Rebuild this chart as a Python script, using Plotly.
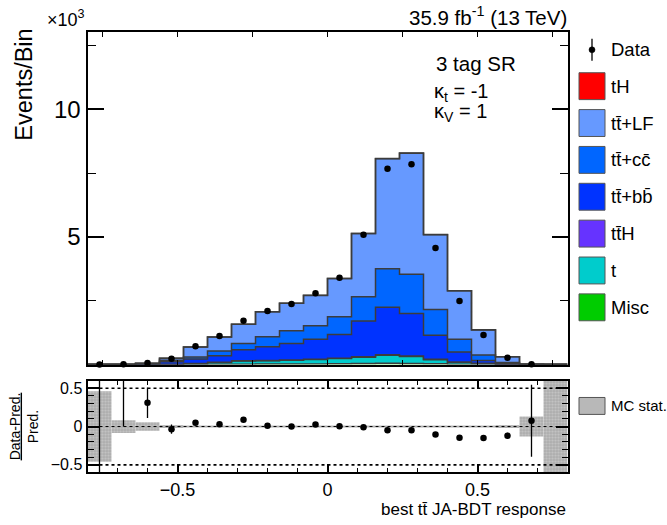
import numpy as np
import plotly.graph_objects as go

# ---------------- data (events per bin) ----------------
BIN_LOW, BIN_HIGH, N_BINS = -0.8, 0.8, 20

misc = [0, 0, 0, 2, 5, 10, 15, 20, 20, 25, 30, 40, 50, 45, 30, 15, 8, 2, 0, 0]
t_single = [0, 1, 3, 7, 33, 76, 129, 132, 150, 173, 205, 250, 315, 273, 165, 77, 38, 7, 2, 0]
tth = [0, 0, 0, 1, 2, 4, 6, 8, 10, 12, 15, 20, 25, 22, 15, 8, 4, 1, 0, 0]
ttbb = [1, 3, 17, 100, 180, 260, 430, 540, 650, 780, 930, 1400, 1860, 1660, 940, 390, 110, 30, 4, 0]
ttcc = [0, 1, 10, 60, 80, 180, 250, 390, 500, 530, 695, 950, 1500, 1540, 1010, 500, 220, 40, 3, 0]
ttlf = [2, 4, 20, 80, 390, 550, 750, 980, 1070, 1190, 1495, 2470, 4310, 4740, 2930, 1900, 980, 230, 6, 1]
th = [0, 0, 0, 0, 1, 1, 2, 2, 3, 3, 4, 5, 7, 7, 5, 3, 1, 0, 0, 0]

data = [0, 15, 65, 230, 720, 1120, 1720, 2100, 2370, 2790, 3400, 5090, 7670, 7850,
        4570, 2490, 1160, 270, 15, None]

ratio = [-1.0, 1.2, 0.31, -0.035, 0.05, 0.03, 0.09, 0.01, 0.0, 0.025, 0.005, -0.01,
         -0.05, -0.05, -0.105, -0.145, -0.15, -0.12, 0.075, None]
ratio_err = [1.8, 1.2, 0.2, 0.06, 0.03, 0.025, 0.02, 0.015, 0.015, 0.012, 0.012, 0.01,
             0.008, 0.008, 0.01, 0.015, 0.025, 0.04, 0.47, None]
mc_stat = [0.46, 0.083, 0.055, 0.02, 0.012, 0.01, 0.008, 0.007, 0.007, 0.006, 0.006,
           0.005, 0.004, 0.004, 0.005, 0.007, 0.01, 0.02, 0.13, 0.9]

components = [  # bottom -> top of stack
    ("Misc", misc, "#00cc00"),
    ("t", t_single, "#00cccc"),
    ("tt\u0304H", tth, "#6633ff"),
    ("tt\u0304+bb\u0304", ttbb, "#0033ff"),
    ("tt\u0304+cc\u0304", ttcc, "#0066ff"),
    ("tt\u0304+LF", ttlf, "#6699ff"),
    ("tH", th, "#ff0000"),
]

# ---------------- geometry ----------------
W, H = 667, 525
FONT = "Liberation Sans, Arial, Helvetica, sans-serif"
X0, X1 = 87.5, 567.5
MAIN_T, MAIN_B = 31, 365
RAT_T, RAT_B = 381, 473.3


def px_x(p):
    return p / W


def px_y(p):
    return 1 - p / H


edges = np.linspace(BIN_LOW, BIN_HIGH, N_BINS + 1)
centers = 0.5 * (edges[:-1] + edges[1:])
width = edges[1] - edges[0]

fig = go.Figure()

cum = np.zeros(N_BINS)
first = True
for name, vals, col in components:
    cum = cum + np.array(vals, dtype=float) / 1000.0
    yv = list(cum) + [cum[-1]]
    fig.add_trace(go.Scatter(
        x=edges, y=yv, mode="lines", line_shape="hv",
        line=dict(color="#3c3c3c", width=1.5),
        fill="tozeroy" if first else "tonexty", fillcolor=col,
        showlegend=False, hoverinfo="skip", xaxis="x", yaxis="y"))
    first = False

data_k = [None if d is None else d / 1000.0 for d in data]
fig.add_trace(go.Scatter(
    x=centers, y=data_k, mode="markers",
    marker=dict(color="black", size=6.5),
    showlegend=False, xaxis="x", yaxis="y", cliponaxis=False))

# ratio panel: MC stat band
mc = np.array(mc_stat)
fig.add_trace(go.Bar(
    x=centers, y=2 * mc, base=-mc, width=width,
    marker=dict(color="#b8b8b8", line=dict(width=0),
                pattern=dict(shape=".", fgcolor="#7a7a7a", bgcolor="#cbcbcb",
                             size=3, solidity=0.5)),
    showlegend=False, xaxis="x2", yaxis="y2", hoverinfo="skip"))

fig.add_trace(go.Scatter(
    x=centers, y=ratio, mode="markers",
    marker=dict(color="black", size=6.5),
    error_y=dict(type="data", array=ratio_err, color="black", thickness=1.3, width=0),
    showlegend=False, xaxis="x2", yaxis="y2"))

shapes = []
for yv, dash, w in [(0.5, "dot", 1.6), (-0.5, "dot", 1.6), (0.0, "dot", 1.0)]:
    shapes.append(dict(type="line", xref="x2", yref="y2", x0=BIN_LOW, x1=BIN_HIGH,
                       y0=yv, y1=yv, line=dict(color="black", width=w, dash=dash),
                       layer="above"))

# manual legend
LEG_X0, LEG_X1 = 579, 605
legend_items = [("tH", "#ff0000"), ("tt\u0304+LF", "#6699ff"),
                ("tt\u0304+cc\u0304", "#0066ff"), ("tt\u0304+bb\u0304", "#0033ff"),
                ("tt\u0304H", "#6633ff"), ("t", "#00cccc"), ("Misc", "#00cc00")]
annotations = []
for i, (lab, col) in enumerate(legend_items):
    cy = 85.5 + 37 * i
    shapes.append(dict(type="rect", xref="paper", yref="paper",
                       x0=px_x(LEG_X0), x1=px_x(LEG_X1),
                       y0=px_y(cy + 13.5), y1=px_y(cy - 13.5),
                       fillcolor=col, line=dict(color="#555555", width=1)))
    annotations.append(dict(x=px_x(609), y=px_y(cy), xref="paper", yref="paper",
                            text=lab, showarrow=False, xanchor="left", yanchor="middle",
                            font=dict(size=18.5, family=FONT, color="black")))
# data legend
shapes.append(dict(type="line", xref="paper", yref="paper", x0=px_x(592), x1=px_x(592),
                   y0=px_y(38), y1=px_y(60), line=dict(color="black", width=1.3)))
shapes.append(dict(type="circle", xref="paper", yref="paper",
                   x0=px_x(589), x1=px_x(595), y0=px_y(52), y1=px_y(46),
                   fillcolor="black", line=dict(color="black", width=0.5)))
annotations.append(dict(x=px_x(609), y=px_y(49), xref="paper", yref="paper",
                        text="Data", showarrow=False, xanchor="left", yanchor="middle",
                        font=dict(size=18.5, family=FONT, color="black")))
# MC stat legend
shapes.append(dict(type="rect", xref="paper", yref="paper",
                   x0=px_x(579), x1=px_x(605), y0=px_y(415), y1=px_y(398),
                   fillcolor="#b8b8b8", line=dict(color="#555555", width=1)))
annotations.append(dict(x=px_x(609), y=px_y(406), xref="paper", yref="paper",
                        text="MC stat.", showarrow=False, xanchor="left", yanchor="middle",
                        font=dict(size=15, family=FONT, color="black")))

# other texts
annotations += [
    dict(x=px_x(569), y=px_y(15), xref="paper", yref="paper",
         text="35.9 fb<sup>-1</sup> (13 TeV)", showarrow=False, xanchor="right",
         yanchor="middle", font=dict(size=20.5, family=FONT, color="black")),
    dict(x=px_x(45), y=px_y(18), xref="paper", yref="paper",
         text="\u00d710<sup>3</sup>", showarrow=False, xanchor="left",
         yanchor="middle", font=dict(size=18, family=FONT, color="black")),
    dict(x=px_x(24), y=px_y(84), xref="paper", yref="paper",
         text="Events/Bin", showarrow=False, textangle=-90, xanchor="center",
         yanchor="middle", font=dict(size=23.5, family=FONT, color="black")),
    dict(x=px_x(434), y=px_y(63), xref="paper", yref="paper",
         text="3 tag SR", showarrow=False, xanchor="left",
         yanchor="middle", font=dict(size=20.5, family=FONT, color="black")),
    dict(x=px_x(432), y=px_y(92), xref="paper", yref="paper",
         text="\u03ba<sub>t</sub> = -1", showarrow=False, xanchor="left",
         yanchor="middle", font=dict(size=20, family=FONT, color="black")),
    dict(x=px_x(432), y=px_y(112), xref="paper", yref="paper",
         text="\u03ba<sub>V</sub> = 1", showarrow=False, xanchor="left",
         yanchor="middle", font=dict(size=20, family=FONT, color="black")),
    dict(x=px_x(568), y=px_y(510), xref="paper", yref="paper",
         text="best tt\u0304 JA-BDT response", showarrow=False, xanchor="right",
         yanchor="middle", font=dict(size=17, family=FONT, color="black")),
    dict(x=px_x(24), y=px_y(427), xref="paper", yref="paper",
         text="<u>Data-Pred.</u><br>Pred.", showarrow=False, textangle=-90,
         xanchor="center", yanchor="middle",
         font=dict(size=14, family=FONT, color="black")),
]

axis_common = dict(showline=True, linecolor="black", linewidth=2, mirror="ticks",
                   ticks="inside", tickcolor="black", showgrid=False, zeroline=False,
                   tickfont=dict(family=FONT, color="black"))

fig.update_layout(
    width=W, height=H, autosize=False,
    margin=dict(l=0, r=0, t=0, b=0),
    paper_bgcolor="white", plot_bgcolor="white",
    showlegend=False, barmode="overlay",
    xaxis=dict(domain=[px_x(X0), px_x(X1)], range=[BIN_LOW, BIN_HIGH],
               showticklabels=False, tick0=0, dtick=0.25, ticklen=5, tickwidth=1.3,
               anchor="y", **axis_common),
    yaxis=dict(domain=[px_y(MAIN_B), px_y(MAIN_T)], range=[0, 13.03],
               tickvals=[0, 5, 10], ticktext=["", "5", "10"], ticklen=16, tickwidth=1.5,
               minor=dict(dtick=2.5, tick0=0, ticklen=8, ticks="inside",
                          tickcolor="black", tickwidth=1.3),
               anchor="x", **{**axis_common, "tickfont": dict(family=FONT, color="black", size=24)}),
    xaxis2=dict(domain=[px_x(X0), px_x(X1)], range=[BIN_LOW, BIN_HIGH],
                tickvals=[-0.5, 0, 0.5], ticktext=["\u22120.5", "0", "0.5"],
                ticklen=8, tickwidth=1.5,
                minor=dict(dtick=0.1, tick0=0, ticklen=4, ticks="inside",
                           tickcolor="black", tickwidth=1.3),
                anchor="y2", **{**axis_common, "tickfont": dict(family=FONT, color="black", size=18)}),
    yaxis2=dict(domain=[px_y(RAT_B), px_y(RAT_T)], range=[-0.6, 0.6],
                tickvals=[-0.5, 0, 0.5], ticktext=["\u22120.5", "0", "0.5"],
                ticklen=12, tickwidth=1.5,
                minor=dict(dtick=0.1, tick0=0, ticklen=6, ticks="inside",
                           tickcolor="black", tickwidth=1.3),
                anchor="x2", **{**axis_common, "tickfont": dict(family=FONT, color="black", size=16)}),
    shapes=shapes, annotations=annotations,
)

fig.write_html("out.html", config={"displayModeBar": False},
               post_script="document.body.style.margin='0px';"
                           "document.body.style.overflow='hidden';")
